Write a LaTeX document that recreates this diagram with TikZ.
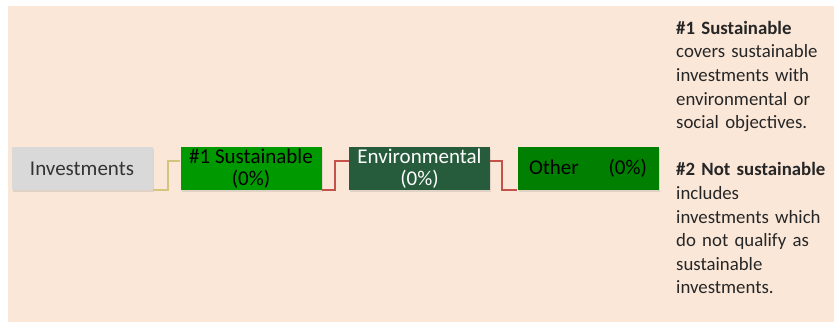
\documentclass[tikz,border=0pt]{standalone}
\usepackage{fontspec}
\setmainfont{Carlito}
\usepackage{tikz}
\usetikzlibrary{shadows}

\definecolor{peach}{HTML}{FAE7D8}
\definecolor{boxgray}{HTML}{D9D9D9}
\definecolor{susgreen}{HTML}{009A00}
\definecolor{envgreen}{HTML}{265C3C}
\definecolor{othgreen}{HTML}{007F00}
\definecolor{khaki}{HTML}{D4C47E}
\definecolor{linkred}{HTML}{C5524A}

\tikzset{
  catbox/.style={minimum width=141pt, minimum height=43pt, inner sep=0pt,
    font=\fontsize{21}{22.5}\selectfont, align=center,
    drop shadow={opacity=0.2, shadow xshift=1pt, shadow yshift=-2pt}},
  link/.style={line width=1.8pt}
}

\begin{document}
\begin{tikzpicture}[x=1pt,y=-1pt]
\useasboundingbox (0,0) rectangle (834,324);
\fill[color=peach] (8,6) rectangle (834,322);
\node[catbox, fill=boxgray, text=black!80] (inv) at (82,168.5) {Investments};
\node[catbox, fill=susgreen, text=black] (sus) at (251,168.5) {\#1 Sustainable\\(0\%)};
\node[catbox, fill=envgreen, text=white] (env) at (419.5,168.5) {Environmental\\(0\%)};
\node[catbox, fill=othgreen, text=black, text width=118pt, align=left] (oth) at (588,168.5) {Other\hfill(0\%)};
\draw[link, khaki] (inv.south east) -- ++(15,0) |- ([yshift=7.5pt]sus.west);
\draw[link, linkred] (sus.south east) -- ++(13,0) |- ([yshift=7.5pt]env.west);
\draw[link, linkred] ([yshift=7.5pt]env.east) -- ++(12,0) |- (oth.south west);
\node[anchor=north west, inner sep=0pt, text width=160pt, align=left,
  font=\fontsize{18.8}{23.6}\selectfont, text=black!85] (note) at (676,21)
  {\textbf{\#1 Sustainable}\\covers sustainable\\investments with\\environmental or\\social objectives.\\[23.6pt]
   \textbf{\#2 Not sustainable}\\includes\\investments which\\do not qualify as\\sustainable\\investments.};
\end{tikzpicture}
\end{document}
